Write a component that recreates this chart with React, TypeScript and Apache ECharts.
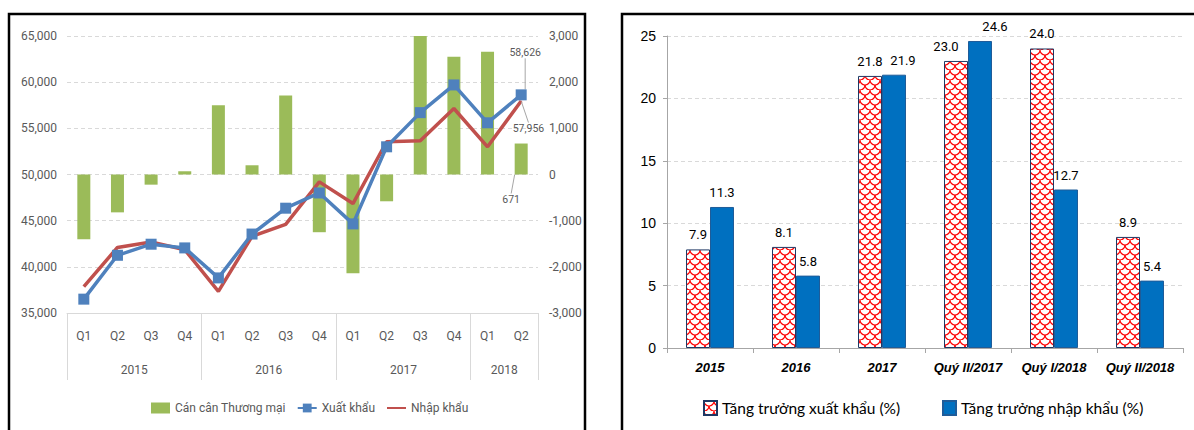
import React, { useEffect, useRef } from 'react';
import * as echarts from 'echarts';

// ---- Left chart data (million USD) ----
const quarters = ['Q1', 'Q2', 'Q3', 'Q4', 'Q1', 'Q2', 'Q3', 'Q4', 'Q1', 'Q2', 'Q3', 'Q4', 'Q1', 'Q2'];
const years = ['2015', '2016', '2017', '2018'];
const yearGroupSizes = [4, 4, 4, 2];
const tradeBalance = [-1400, -820, -220, 70, 1500, 200, 1710, -1250, -2140, -580, 3000, 2550, 2660, 671];
const exportsQ = [36500, 41250, 42450, 42050, 38800, 43550, 46350, 48000, 44650, 53000, 56700, 59700, 55600, 58626];
const importsQ = [37850, 42100, 42700, 41850, 37350, 43300, 44600, 49200, 46850, 53550, 53650, 57150, 53000, 57956];
const leftNames = ['Cán cân Thương mại', 'Xuất khẩu', 'Nhập khẩu'];

// ---- Right chart data (%) ----
const growthCats = ['2015', '2016', '2017', 'Quý II/2017', 'Quý I/2018', 'Quý II/2018'];
const exportGrowth = [7.9, 8.1, 21.8, 23.0, 24.0, 8.9];
const importGrowth = [11.3, 5.8, 21.9, 24.6, 12.7, 5.4];
const rightNames = ['Tăng trưởng xuất khẩu (%)', 'Tăng trưởng nhập khẩu (%)'];

const LEFT_FONT = "Roboto, sans-serif";
const ARIAL = "'Liberation Sans', Arial, sans-serif";
const GREY_TEXT = '#595959';

function makePattern(): HTMLCanvasElement {
  const c = document.createElement('canvas');
  c.width = 10;
  c.height = 10;
  const ctx = c.getContext('2d')!;
  ctx.fillStyle = '#ffffff';
  ctx.fillRect(0, 0, 10, 10);
  ctx.strokeStyle = '#FF0000';
  ctx.lineWidth = 1.2;
  ctx.beginPath();
  ctx.arc(5, 0, 5, 0, Math.PI);
  ctx.stroke();
  ctx.beginPath();
  ctx.arc(0, 5, 5, 0, Math.PI / 2);
  ctx.stroke();
  ctx.beginPath();
  ctx.arc(10, 5, 5, Math.PI / 2, Math.PI);
  ctx.stroke();
  return c;
}

export default function App() {
  const ref = useRef<HTMLDivElement>(null);

  useEffect(() => {
    if (!ref.current) return;
    const chart = echarts.init(ref.current, undefined, { renderer: 'svg' });

    const starts: number[] = [];
    const yearAt: Record<number, string> = {};
    let acc = 0;
    yearGroupSizes.forEach((s, i) => {
      starts.push(acc);
      yearAt[acc + s / 2] = years[i];
      acc += s;
    });
    const total = acc;
    const last = exportsQ.length - 1;
    const fmt = (v: number) => Number(v).toLocaleString('en-US');
    const fmt1 = (p: any) => Number(p.value).toFixed(1);

    // horizontal nudges of a few crowded value labels (as in the reference)
    const exportLabelShift: Record<number, number> = { 3: -10 };
    const importLabelShift: Record<number, number> = { 2: 9, 3: 15 };

    const pattern = makePattern();
    const valueLabel = { show: true, position: 'top', distance: 8, color: '#000', fontSize: 13, fontFamily: LEFT_FONT, formatter: fmt1 };
    const leaderLine = { show: true, lineStyle: { color: '#A6A6A6', width: 1 } };
    const smallLabel = { show: false, color: GREY_TEXT, fontSize: 10.5, fontFamily: LEFT_FONT };

    const option: any = {
      animation: false,
      backgroundColor: '#ffffff',
      graphic: [
        { type: 'rect', shape: { x: 9, y: 14, width: 576, height: 440 }, style: { fill: 'none', stroke: '#000', lineWidth: 2.5 } },
        { type: 'rect', shape: { x: 622, y: 14, width: 600, height: 440 }, style: { fill: 'none', stroke: '#000', lineWidth: 2.5 } },
      ],
      grid: [
        { left: 67, top: 36, width: 471, height: 277 },
        { left: 667, top: 36, width: 516, height: 312 },
      ],
      legend: [
        {
          left: 151, top: 402, padding: 0, itemWidth: 19, itemHeight: 11, itemGap: 11,
          textStyle: { color: GREY_TEXT, fontSize: 12, fontFamily: LEFT_FONT },
          data: [
            { name: leftNames[0], icon: 'rect' },
            { name: leftNames[1] },
            { name: leftNames[2], itemStyle: { opacity: 0 } },
          ],
        },
        {
          left: 703, top: 400, padding: 0, itemWidth: 13, itemHeight: 14,
          textStyle: { color: '#000', fontSize: 15.5, fontFamily: "Lato, sans-serif" },
          data: [{ name: rightNames[0], icon: 'rect' }],
        },
        {
          left: 942, top: 400, padding: 0, itemWidth: 13, itemHeight: 14,
          textStyle: { color: '#000', fontSize: 15.5, fontFamily: "Lato, sans-serif" },
          data: [{ name: rightNames[1], icon: 'rect' }],
        },
      ],
      xAxis: [
        {
          type: 'category', gridIndex: 0, data: quarters, position: 'bottom',
          axisLine: { onZero: false, lineStyle: { color: '#D9D9D9', width: 1 } },
          axisTick: { show: true, interval: (i: number) => starts.includes(i), length: 67, lineStyle: { color: '#D9D9D9' } },
          axisLabel: { interval: 0, color: GREY_TEXT, fontSize: 12, margin: 17, fontFamily: LEFT_FONT },
        },
        {
          type: 'value', gridIndex: 0, min: 0, max: total, interval: 1, position: 'bottom', offset: 34,
          axisLine: { show: false, onZero: false }, axisTick: { show: false }, splitLine: { show: false },
          axisLabel: {
            formatter: (v: number) => yearAt[v] ?? '', color: GREY_TEXT, fontSize: 12, margin: 17,
            fontFamily: LEFT_FONT, showMinLabel: true, showMaxLabel: true,
          },
        },
        {
          type: 'category', gridIndex: 1, data: growthCats,
          axisLine: { onZero: false, lineStyle: { color: '#A6A6A6', width: 1 } },
          axisTick: { show: true, length: 5, lineStyle: { color: '#A6A6A6' } },
          axisLabel: { interval: 0, color: '#000', fontSize: 13, fontWeight: 'bold', fontStyle: 'italic', margin: 13, fontFamily: ARIAL },
        },
      ],
      yAxis: [
        {
          type: 'value', gridIndex: 0, min: 35000, max: 65000, interval: 5000,
          axisLine: { show: false }, axisTick: { show: false },
          splitLine: { lineStyle: { color: '#D9D9D9', type: [4, 3] } },
          axisLabel: { formatter: fmt, color: GREY_TEXT, fontSize: 12, margin: 10, fontFamily: LEFT_FONT },
        },
        {
          type: 'value', gridIndex: 0, min: -3000, max: 3000, interval: 1000, position: 'right',
          axisLine: { show: false }, axisTick: { show: false }, splitLine: { show: false },
          axisLabel: { formatter: fmt, color: GREY_TEXT, fontSize: 12, margin: 11, fontFamily: LEFT_FONT },
        },
        {
          type: 'value', gridIndex: 1, min: 0, max: 25, interval: 5,
          axisLine: { show: true, lineStyle: { color: '#A6A6A6' } },
          axisTick: { show: true, length: 4, lineStyle: { color: '#A6A6A6' } },
          splitLine: { lineStyle: { color: '#D9D9D9', type: [4, 3] } },
          axisLabel: { color: '#000', fontSize: 14, margin: 11, fontFamily: ARIAL },
        },
      ],
      series: [
        {
          name: leftNames[0], type: 'bar', xAxisIndex: 0, yAxisIndex: 1, barWidth: 13, z: 1,
          itemStyle: { color: '#9BBB59' },
          data: tradeBalance.map((v, i) =>
            i === last ? { value: v, label: { show: true, position: 'bottom', formatter: (p: any) => fmt(p.value) } } : v),
          label: smallLabel,
          labelLine: leaderLine,
          labelLayout: (p: any) => (p.dataIndex === last ? { dx: -10, dy: 14 } : {}),
        },
        {
          name: leftNames[1], type: 'line', xAxisIndex: 0, yAxisIndex: 0, z: 3,
          symbol: 'rect', symbolSize: 11,
          lineStyle: { color: '#4F81BD', width: 3.5 }, itemStyle: { color: '#4F81BD' },
          data: exportsQ.map((v, i) =>
            i === last ? { value: v, label: { show: true, position: 'top', formatter: (p: any) => fmt(p.value) } } : v),
          label: smallLabel,
          labelLine: leaderLine,
          labelLayout: (p: any) => (p.dataIndex === last ? { dx: 4, dy: -26 } : {}),
        },
        {
          name: leftNames[2], type: 'line', xAxisIndex: 0, yAxisIndex: 0, z: 2,
          symbol: 'none',
          lineStyle: { color: '#C0504D', width: 3.5 }, itemStyle: { color: '#C0504D' },
          data: importsQ.map((v, i) =>
            i === last
              ? { value: v, symbol: 'circle', symbolSize: 1, label: { show: true, position: 'right', formatter: (p: any) => fmt(p.value) } }
              : v),
          label: smallLabel,
          labelLine: leaderLine,
          labelLayout: (p: any) => (p.dataIndex === last ? { dx: -14, dy: 27 } : {}),
        },
        {
          name: rightNames[0], type: 'bar', xAxisIndex: 2, yAxisIndex: 2, barWidth: 24, barGap: '0%',
          itemStyle: { color: { image: pattern, repeat: 'repeat' }, borderColor: '#1F3864', borderWidth: 1 },
          label: valueLabel,
          data: exportGrowth.map((v, i) =>
            exportLabelShift[i] ? { value: v, label: { offset: [exportLabelShift[i], 0] } } : v),
        },
        {
          name: rightNames[1], type: 'bar', xAxisIndex: 2, yAxisIndex: 2, barWidth: 24, barGap: '0%',
          itemStyle: { color: '#0070C0', borderColor: '#1F5C99', borderWidth: 1 },
          label: valueLabel,
          data: importGrowth.map((v, i) =>
            importLabelShift[i] ? { value: v, label: { offset: [importLabelShift[i], 0] } } : v),
        },
      ],
    };

    chart.setOption(option);
    return () => chart.dispose();
  }, []);

  return <div ref={ref} style={{ position: 'fixed', left: 0, top: 0, width: 1194, height: 430 }} />;
}
